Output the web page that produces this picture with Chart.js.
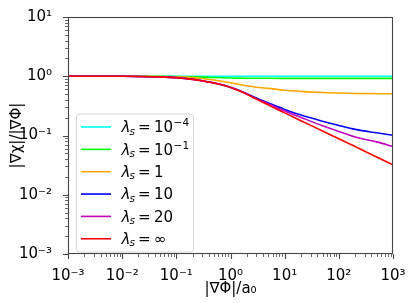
<!DOCTYPE html>
<html><head><meta charset="utf-8">
<script src="https://cdn.jsdelivr.net/npm/chart.js@4.4.0/dist/chart.umd.min.js"></script>
<style>html,body{margin:0;padding:0;background:#fff;}canvas{display:block;}</style>
</head><body>
<canvas id="c" width="413" height="303"></canvas>
<script>
// ---- data ----
const xValues       = [0.001,0.003,0.01,0.02,0.05,0.1,0.2,0.3,0.5,0.7,1,1.5,2,3,5,10,20,50,100,200,500,1000];
const seriesCyan    = [1,1,1,1,1,1,1,1,1,1,1,1,1,0.999,0.999,0.999,0.998,0.998,0.998,0.998,0.998,0.998];
const seriesLime    = [1,1,1,1,0.998,0.99,0.975,0.965,0.95,0.942,0.935,0.93,0.927,0.925,0.923,0.922,0.922,0.922,0.922,0.922,0.922,0.922];
const seriesOrange  = [1,1,0.999,0.997,0.992,0.978,0.948,0.918,0.862,0.82,0.776,0.724,0.69,0.653,0.624,0.582,0.556,0.531,0.521,0.513,0.508,0.506];
const seriesBlue    = [1,1,0.998,0.993,0.976,0.947,0.888,0.838,0.771,0.72,0.655,0.569,0.507,0.428,0.354,0.276,0.221,0.174,0.148,0.127,0.111,0.101];
const seriesMagenta = [1,1,0.998,0.993,0.975,0.946,0.887,0.837,0.769,0.717,0.652,0.562,0.50,0.418,0.342,0.26,0.202,0.146,0.117,0.094,0.078,0.065];
const seriesRed     = [1,1,0.998,0.993,0.975,0.945,0.885,0.835,0.767,0.714,0.646,0.556,0.495,0.412,0.327,0.241,0.178,0.119,0.088,0.065,0.0434,0.032];

const legendMantissa = ['10','10','1','10','20','\u221e'];
const legendExponent = ['\u22124','\u22121','','','',''];
const seriesColors = ['#00ffff','#00ff00','#ffa500','#0000ff','#bf00bf','#ff0000'];

const xTickValues = [1e-3,1e-2,1e-1,1,10,100,1000];
const xTickLabels = ['10\u207b\u00b3','10\u207b\u00b2','10\u207b\u00b9','10\u2070','10\u00b9','10\u00b2','10\u00b3'];
const yTickValues = [1e-3,1e-2,1e-1,1,10];
const yTickLabels = ['10\u207b\u00b3','10\u207b\u00b2','10\u207b\u00b9','10\u2070','10\u00b9'];

const allSeries = [seriesCyan, seriesLime, seriesOrange, seriesBlue, seriesMagenta, seriesRed];
const FONT = '"DejaVu Sans", sans-serif';
const FS = 15;
const SPINE = '#444';

const datasets = allSeries.map((s, i) => ({
  label: 'lambda_s = ' + legendMantissa[i] + legendExponent[i],
  data: xValues.map((x, j) => ({x: x, y: s[j]})),
  borderColor: seriesColors[i],
  borderWidth: 1.6,
  pointRadius: 0,
  fill: false,
  cubicInterpolationMode: 'monotone',
  order: allSeries.length - 1 - i
}));

function axesDecor(chart) {
  const ctx = chart.ctx, ca = chart.chartArea;
  const xs = chart.scales.x, ys = chart.scales.y;
  ctx.save();
  ctx.strokeStyle = SPINE;
  ctx.lineWidth = 1.1;
  ctx.strokeRect(Math.round(ca.left) + 0.5, Math.round(ca.top) + 0.5,
                 Math.round(ca.right - ca.left) - 1, Math.round(ca.bottom - ca.top) - 1);
  ctx.beginPath();
  xTickValues.forEach(v => {
    const p = Math.round(xs.getPixelForValue(v)) + 0.5;
    ctx.moveTo(p, ca.bottom); ctx.lineTo(p, ca.bottom + 5);
  });
  yTickValues.forEach(v => {
    const p = Math.round(ys.getPixelForValue(v)) + 0.5;
    ctx.moveTo(ca.left, p); ctx.lineTo(ca.left - 5, p);
  });
  ctx.stroke();
  ctx.beginPath();
  ctx.lineWidth = 0.8;
  for (let d = -3; d < 3; d++) for (let k = 2; k <= 9; k++) {
    const p = Math.round(xs.getPixelForValue(k * Math.pow(10, d))) + 0.5;
    ctx.moveTo(p, ca.bottom); ctx.lineTo(p, ca.bottom + 3);
  }
  for (let d = -3; d < 1; d++) for (let k = 2; k <= 9; k++) {
    const p = Math.round(ys.getPixelForValue(k * Math.pow(10, d))) + 0.5;
    ctx.moveTo(ca.left, p); ctx.lineTo(ca.left - 3, p);
  }
  ctx.stroke();
  ctx.restore();
}

function drawLegend(chart) {
  const ctx = chart.ctx, ca = chart.chartArea;
  const bx = ca.left + 8, by = ca.top + 96.5, bw = 117, bh = 138;
  ctx.save();
  ctx.beginPath();
  ctx.roundRect(bx + 0.5, by + 0.5, bw, bh, 3);
  ctx.fillStyle = 'rgba(255,255,255,0.8)';
  ctx.fill();
  ctx.strokeStyle = '#d6d6d6';
  ctx.lineWidth = 1;
  ctx.stroke();
  const rowH = 22.35;
  for (let i = 0; i < legendMantissa.length; i++) {
    const y = by + 13.5 + i * rowH;
    ctx.beginPath();
    ctx.strokeStyle = seriesColors[i];
    ctx.lineWidth = 1.6;
    ctx.moveTo(bx + 5, y); ctx.lineTo(bx + 35, y);
    ctx.stroke();
    const x0 = bx + 45.5;
    const base = y + 5.3;
    ctx.fillStyle = '#000';
    ctx.textBaseline = 'alphabetic';
    ctx.textAlign = 'left';
    ctx.font = 'italic ' + FS + 'px ' + FONT;
    ctx.fillText('\u03bb', x0, base);
    const wl = ctx.measureText('\u03bb').width;
    ctx.font = 'italic 10.5px ' + FONT;
    ctx.fillText('s', x0 + wl - 0.8, base + 2.2);
    ctx.font = FS + 'px ' + FONT;
    ctx.fillText('=', x0 + 16.5, base);
    ctx.fillText(legendMantissa[i], x0 + 32.5, base);
    if (legendExponent[i]) {
      const wm = ctx.measureText(legendMantissa[i]).width;
      ctx.font = '10.5px ' + FONT;
      ctx.fillText(legendExponent[i], x0 + 32.5 + wm + 0.5, base - 6);
    }
  }
  ctx.restore();
}

const extras = {
  id: 'extras',
  afterDatasetsDraw(chart) { axesDecor(chart); drawLegend(chart); }
};

new Chart(document.getElementById('c'), {
  type: 'line',
  data: { datasets: datasets },
  plugins: [extras],
  options: {
    responsive: false,
    animation: false,
    devicePixelRatio: 1,
    layout: { padding: { top: 12, right: 20, left: 0, bottom: 0 } },
    plugins: { legend: { display: false }, tooltip: { enabled: false } },
    scales: {
      x: {
        type: 'logarithmic', min: 1e-3, max: 1e3,
        afterBuildTicks: s => { s.ticks = xTickValues.map(v => ({value: v})); },
        afterFit: s => { s.height = 49; },
        grid: { display: false },
        border: { display: false },
        ticks: {
          autoSkip: false, maxRotation: 0, padding: 5, color: '#000',
          font: { family: FONT, size: FS },
          callback: (v, i) => xTickLabels[i]
        },
        title: { display: true, text: '|\u2207\u03a6|/a\u2080', color: '#000',
                 font: { family: FONT, size: FS }, padding: { top: 0, bottom: 5 } }
      },
      y: {
        type: 'logarithmic', min: 1e-3, max: 10,
        afterBuildTicks: s => { s.ticks = yTickValues.map(v => ({value: v})); },
        afterFit: s => { s.width = 68; },
        grid: { display: false },
        border: { display: false },
        ticks: {
          autoSkip: false, padding: 8, color: '#000',
          font: { family: FONT, size: FS },
          callback: (v, i) => yTickLabels[i]
        },
        title: { display: true, text: '|\u2207\u03c7|/|\u2207\u03a6|', color: '#000',
                 font: { family: FONT, size: FS }, padding: { top: 8, bottom: 0 } }
      }
    }
  }
});
</script>
</body></html>
